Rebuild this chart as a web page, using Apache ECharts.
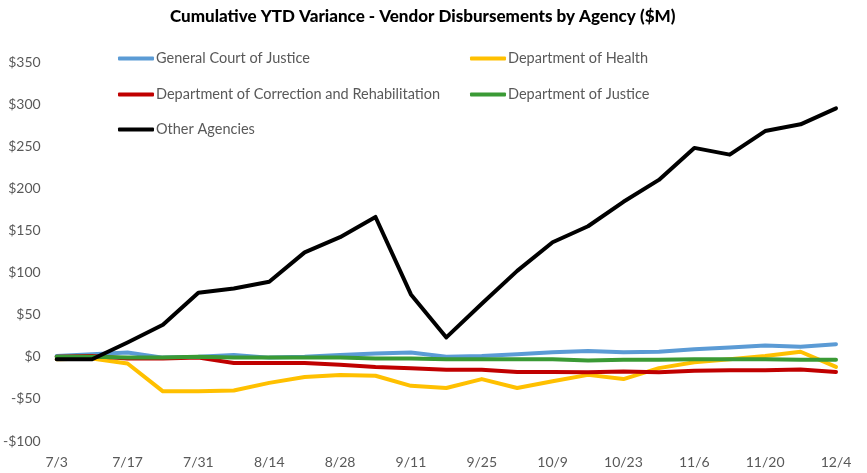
<!DOCTYPE html>
<html style="height: 100%">
<head>
  <meta charset="utf-8">
  <title>demo</title>
</head>
<body style="height: 100%; margin: 0">
<div id="container" style="height: 473px; width: 867px; background: #fff"></div>
<script src="https://cdn.jsdelivr.net/npm/echarts@6/dist/echarts.min.js"></script>
<script type="text/javascript">
  var weeks = ['7/3', '7/10', '7/17', '7/24', '7/31', '8/7', '8/14', '8/21', '8/28', '9/4', '9/11', '9/18',
    '9/25', '10/2', '10/9', '10/16', '10/23', '10/30', '11/6', '11/13', '11/20', '11/27', '12/4'];

  var generalCourt = [1, 3, 5, -1, 0, 2, -1, 0, 2, 4, 5, 0, 1, 3, 5.5, 7, 5.5, 6, 9, 11, 13.5, 12, 15];
  var health = [-3, -2, -8, -41, -41, -40, -31, -24, -21.5, -22.5, -34.5, -37, -26.5, -37, -29, -21.5, -26.5, -13.5, -6.5, -3, 1, 6, -12];
  var correction = [0, 1, -2, -2, -1, -7.5, -7.5, -7.5, -9.5, -12, -13.5, -15.5, -15.5, -18, -18, -18.5, -17.5, -18.5, -16.7, -16, -16, -15, -18];
  var justice = [0, 0, -1, -1, 0, -1, -1, -1, -1, -2, -2, -3, -3, -3, -3, -4.5, -3.5, -3.5, -3, -3, -3, -3.5, -3.5];
  var otherAgencies = [-3, -3, 17, 38, 76, 81, 89, 124, 142, 166, 74, 23, 63, 102, 136, 155, 184, 210, 248, 240, 268, 276, 295];

  var seriesNames = ['General Court of Justice', 'Department of Health', 'Department of Correction and Rehabilitation',
    'Department of Justice', 'Other Agencies'];
  var seriesData = [generalCourt, health, correction, justice, otherAgencies];
  var seriesColors = ['#5B9BD5', '#FFC000', '#C00000', '#3A9A35', '#000000'];

  var fontFamily = 'Lato, "Open Sans", sans-serif';
  var legendPos = [[118, 51], [470, 51], [118, 87], [470, 87], [118, 122]];

  var dom = document.getElementById('container');
  var myChart = echarts.init(dom);

  var legends = seriesNames.map(function (name, i) {
    return {
      data: [name],
      left: legendPos[i][0],
      top: legendPos[i][1],
      icon: 'roundRect',
      itemWidth: 36,
      itemHeight: 4,
      padding: 0,
      textStyle: { color: '#595959', fontSize: 14.5, fontFamily: fontFamily, padding: [0, 0, 0, -3] }
    };
  });

  var option = {
    animation: false,
    title: {
      text: 'Cumulative YTD Variance - Vendor Disbursements by Agency ($M)',
      left: 165,
      top: 3,
      textStyle: { fontSize: 17, fontWeight: 900, color: '#000', fontFamily: fontFamily }
    },
    legend: legends,
    grid: { left: 53, right: 31, top: 62, bottom: 32, containLabel: false },
    xAxis: {
      type: 'category',
      data: weeks,
      boundaryGap: false,
      axisLine: { show: false },
      axisTick: { show: false },
      axisLabel: { interval: 1, color: '#595959', fontSize: 14, fontFamily: fontFamily, margin: 14 }
    },
    yAxis: {
      type: 'value',
      min: -100,
      max: 350,
      interval: 50,
      splitLine: { show: false },
      axisLine: { show: false },
      axisTick: { show: false },
      axisLabel: {
        color: '#595959', fontSize: 14, fontFamily: fontFamily, margin: 16,
        formatter: function (v) { return v < 0 ? '-$' + Math.abs(v) : '$' + v; }
      }
    },
    series: seriesNames.map(function (name, i) {
      return {
        name: name,
        type: 'line',
        data: seriesData[i],
        symbol: 'none',
        color: seriesColors[i],
        lineStyle: { width: 4, color: seriesColors[i], cap: 'round', join: 'round' }
      };
    })
  };

  myChart.setOption(option);
</script>
</body>
</html>
